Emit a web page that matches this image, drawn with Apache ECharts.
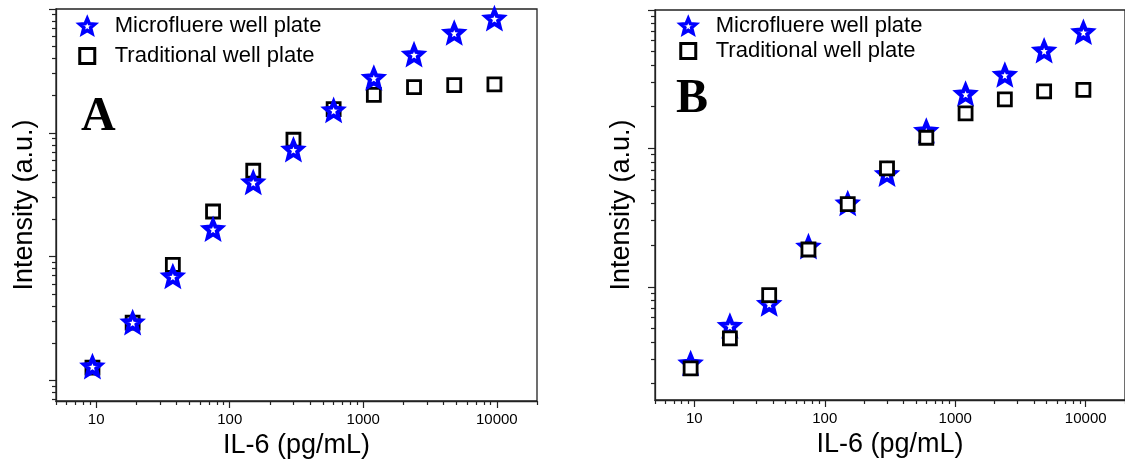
<!DOCTYPE html>
<html>
<head>
<meta charset="utf-8">
<script src="https://cdn.jsdelivr.net/npm/echarts@6/dist/echarts.min.js"></script>
<style>
  html, body { margin: 0; padding: 0; background: #fff; }
  #main { width: 1125px; height: 464px; }
</style>
</head>
<body>
<div id="main"></div>
<script>
// IL-6 concentrations (pg/mL)
var conc = [9.375, 18.75, 37.5, 75, 150, 300, 600, 1200, 2400, 4800, 9600];

// panel A
var microA = [1290, 2925, 6890, 16600, 39700, 72900, 151600, 276700, 427600, 639700, 835000];
var tradA  = [1265, 2925, 8570, 23100, 49300, 87800, 155300, 202700, 233900, 242900, 245900];

// panel B
var microB = [2790, 5200, 7500, 19500, 40000, 65200, 133400, 247200, 339000, 508000, 690000];
var tradB  = [2570, 4240, 8710, 18600, 39600, 71700, 119400, 179200, 225900, 258200, 264400];

var xMajor = [10, 100, 1000, 10000];
var xMinor = [5, 6, 7, 8, 9, 20, 30, 40, 50, 60, 70, 80, 90,
  200, 300, 400, 500, 600, 700, 800, 900,
  2000, 3000, 4000, 5000, 6000, 7000, 8000, 9000, 20000];
var yMajorA = [1e3, 1e4, 1e5, 1e6];
var yMinorA = [700, 800, 900, 2e3, 3e3, 4e3, 5e3, 6e3, 7e3, 8e3, 9e3,
  2e4, 3e4, 4e4, 5e4, 6e4, 7e4, 8e4, 9e4, 2e5, 3e5, 4e5, 5e5, 6e5, 7e5, 8e5, 9e5];
var yMajorB = [1e4, 1e5, 1e6];
var yMinorB = [2e3, 3e3, 4e3, 5e3, 6e3, 7e3, 8e3, 9e3,
  2e4, 3e4, 4e4, 5e4, 6e4, 7e4, 8e4, 9e4, 2e5, 3e5, 4e5, 5e5, 6e5, 7e5, 8e5, 9e5];

var nameMicro = 'Microfluere well plate', nameTrad = 'Traditional well plate';
var starPath = 'path://M50,2 L63,33 L97,36 L71,58 L80,93 L50,75 L20,93 L29,58 L3,36 L37,33 Z';
var FONT = 'Liberation Sans, Arial, sans-serif';

function pair(xs, ys){
  return xs.map(function(x, i){ return [x, ys[i]]; });
}

function xAxes(grid){
  return [{
    type: 'log', gridIndex: grid, min: 5, max: 20000, position: 'bottom',
    name: 'IL-6 (pg/mL)', nameLocation: 'middle', nameGap: 30,
    nameTextStyle: {fontSize: 27, color: '#000', fontFamily: FONT, verticalAlign: 'top'},
    axisLine: {show: true, lineStyle: {color: '#222', width: 1.3}},
    axisTick: {show: true, length: 7, customValues: xMajor, lineStyle: {color: '#222', width: 1.2}},
    axisLabel: {customValues: xMajor, fontSize: 15, color: '#000', fontFamily: FONT, margin: 11,
      formatter: function(v){ return String(v); }},
    splitLine: {show: false}
  }, {
    type: 'log', gridIndex: grid, min: 5, max: 20000, position: 'bottom',
    axisLine: {show: false},
    axisTick: {show: true, length: 4, customValues: xMinor, lineStyle: {color: '#222', width: 1.2}},
    axisLabel: {show: false},
    splitLine: {show: false}
  }];
}

function yAxes(grid, lo, major, minor, gap){
  return [{
    type: 'log', gridIndex: grid, min: lo, max: 1e6, position: 'left',
    name: 'Intensity (a.u.)', nameLocation: 'middle', nameGap: gap,
    nameTextStyle: {fontSize: 27, color: '#000', fontFamily: FONT},
    axisLine: {show: true, lineStyle: {color: '#222', width: 1.3}},
    axisTick: {show: true, length: 7, customValues: major, lineStyle: {color: '#222', width: 1.2}},
    axisLabel: {show: false},
    splitLine: {show: false}
  }, {
    type: 'log', gridIndex: grid, min: lo, max: 1e6, position: 'left',
    axisLine: {show: false},
    axisTick: {show: true, length: 4, customValues: minor, lineStyle: {color: '#222', width: 1.2}},
    axisLabel: {show: false},
    splitLine: {show: false}
  }];
}

function starSeries(xi, yi, data, z){
  return {
    name: nameMicro, type: 'scatter', xAxisIndex: xi, yAxisIndex: yi, z: z,
    symbol: starPath, symbolSize: 17, data: data,
    itemStyle: {color: '#fff', borderColor: '#0000ff', borderWidth: 4, opacity: 1}
  };
}
function squareSeries(xi, yi, data, z){
  return {
    name: nameTrad, type: 'scatter', xAxisIndex: xi, yAxisIndex: yi, z: z,
    symbol: 'rect', symbolSize: 13, data: data,
    itemStyle: {color: '#fff', borderColor: '#000', borderWidth: 2.8, opacity: 1}
  };
}

function legend(left, top, gap){
  return {
    left: left, top: top, orient: 'vertical', itemGap: gap,
    itemWidth: 15, itemHeight: 15,
    data: [
      {name: nameMicro, itemStyle: {borderWidth: 3.5}},
      {name: nameTrad, itemStyle: {borderWidth: 3}}
    ],
    textStyle: {fontSize: 22, color: '#000', fontFamily: FONT, padding: [0, 0, 0, 15]}
  };
}

var chart = echarts.init(document.getElementById('main'));
chart.setOption({
  animation: false,
  backgroundColor: '#fff',
  grid: [
    {left: 56, top: 9, width: 481, height: 392, show: true, borderColor: '#222', borderWidth: 1.3},
    {left: 655, top: 10, width: 479, height: 390, show: true, borderColor: '#222', borderWidth: 1.3}
  ],
  xAxis: xAxes(0).concat(xAxes(1)),
  yAxis: yAxes(0, 680, yMajorA, yMinorA, 18).concat(yAxes(1, 1520, yMajorB, yMinorB, 20)),
  legend: [legend(73, 10, 8), legend(674, 10, 3)],
  series: [
    squareSeries(0, 0, pair(conc, tradA), 2),
    starSeries(0, 0, pair(conc, microA), 3),
    starSeries(2, 2, pair(conc, microB), 2),
    squareSeries(2, 2, pair(conc, tradB), 3)
  ],
  graphic: [
    {type: 'text', left: 81, top: 94, style: {text: 'A', font: 'bold 48px "Liberation Serif", serif', fill: '#000'}},
    {type: 'text', left: 676, top: 76, style: {text: 'B', font: 'bold 48px "Liberation Serif", serif', fill: '#000'}}
  ]
});
</script>
</body>
</html>
